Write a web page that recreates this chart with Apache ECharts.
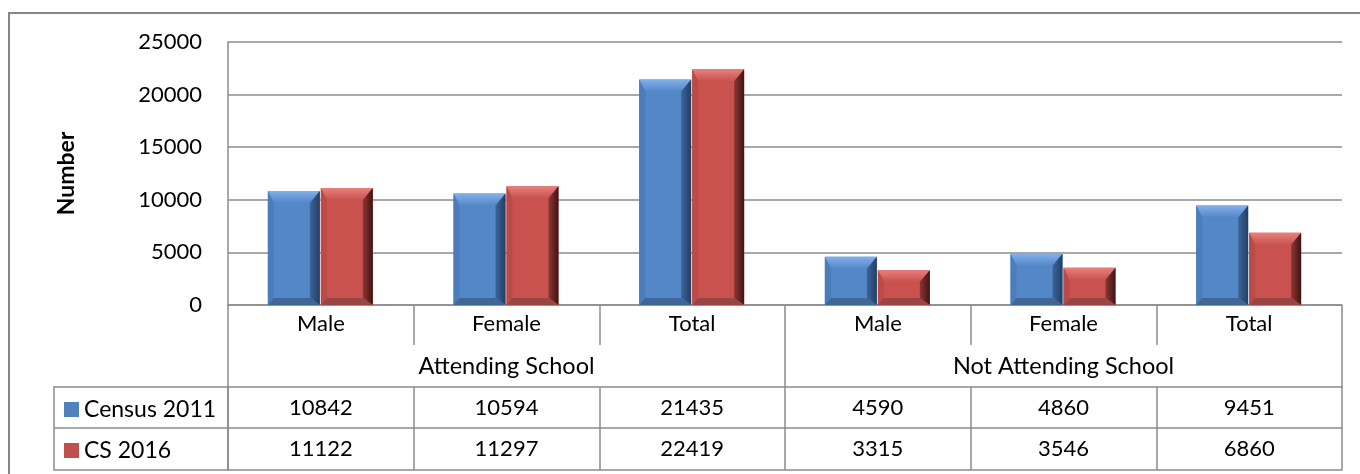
<!DOCTYPE html>
<html>
<head>
<meta charset="utf-8">
<script src="https://cdn.jsdelivr.net/npm/echarts@6/dist/echarts.min.js"></script>
<style>
html, body { margin: 0; padding: 0; background: #fff; }
#chart { width: 1360px; height: 474px; }
</style>
</head>
<body>
<div id="chart"></div>
<script>
var categories = ['Male', 'Female', 'Total', 'Male', 'Female', 'Total'];
var groups = ['Attending School', 'Not Attending School'];
var census2011 = [10842, 10594, 21435, 4590, 4860, 9451];
var cs2016 = [11122, 11297, 22419, 3315, 3546, 6860];
var yTicks = { min: 0, max: 25000, interval: 5000 };

var FONT = 'Lato';
var LINE = '#8c8c8c';

var palettes = {
    blue: { face: '#5487c7', top: '#82b0ea', left: '#4b7cbb', right: '#233e62', rightIn: '#3b659b', bottom: '#3f6697' },
    red: { face: '#c9524f', top: '#e8807d', left: '#bb4b48', right: '#3f1413', rightIn: '#8e3634', bottom: '#9a4542' }
};

// bevelled bar drawn through the axis scales
function bevelBar(shift, pal) {
    return function (params, api) {
        var idx = api.value(0);
        var v = api.value(1);
        var topPt = api.coord([idx, v]);
        var basePt = api.coord([idx, 0]);
        var bw = api.size([1, 0])[0];
        var w = bw * 0.28;
        var x0 = topPt[0] + shift * w - (shift < 0 ? 1 : 0);
        var x1 = x0 + w;
        var y0 = topPt[1];
        var y1 = basePt[1];
        var h = y1 - y0;
        var bt = Math.min(12, h / 3), br = 10, bb = Math.min(7, h / 4), bl = 6;
        return {
            type: 'group',
            children: [
                { type: 'rect', shape: { x: x0, y: y0, width: w, height: h }, style: { fill: pal.face } },
                { type: 'polygon', shape: { points: [[x0, y0], [x1, y0], [x1 - br, y0 + bt], [x0 + bl, y0 + bt]] },
                  style: { fill: new echarts.graphic.LinearGradient(0, 0, 0, 1, [{ offset: 0, color: pal.top }, { offset: 1, color: pal.face }]) } },
                { type: 'polygon', shape: { points: [[x0, y0], [x0 + bl, y0 + bt], [x0 + bl, y1 - bb], [x0, y1]] },
                  style: { fill: pal.left } },
                { type: 'polygon', shape: { points: [[x1, y0], [x1, y1], [x1 - br, y1 - bb], [x1 - br, y0 + bt]] },
                  style: { fill: new echarts.graphic.LinearGradient(1, 0, 0, 0, [{ offset: 0, color: pal.right }, { offset: 1, color: pal.rightIn }]) } },
                { type: 'polygon', shape: { points: [[x0, y1], [x1, y1], [x1 - br, y1 - bb], [x0 + bl, y1 - bb]] },
                  style: { fill: pal.bottom } }
            ]
        };
    };
}

function tableAxis(data, offset, tickLen, showLine, margin, size) {
    return {
        type: 'category',
        position: 'bottom',
        offset: offset,
        data: data,
        axisLine: { show: showLine, lineStyle: { color: LINE, width: 1.5 } },
        axisTick: { show: tickLen > 0, length: tickLen, interval: 0, lineStyle: { color: LINE, width: 1.5 } },
        axisLabel: { show: data.length > 0, interval: 0, margin: margin, color: '#000', fontFamily: FONT, fontSize: size || 22 },
        splitLine: { show: false }
    };
}

var chart = echarts.init(document.getElementById('chart'));
var option = {
    animation: false,
    grid: { left: 228, right: 18, top: 42, bottom: 169, outerBoundsMode: 'none', containLabel: false },
    legend: {
        orient: 'vertical',
        left: 64,
        top: 398,
        padding: 0,
        itemWidth: 15,
        itemHeight: 15,
        itemGap: 18,
        icon: 'rect',
        data: ['Census 2011', 'CS 2016'],
        textStyle: { color: '#000', fontFamily: FONT, fontSize: 23, lineHeight: 23 }
    },
    graphic: [
        { type: 'rect', shape: { x: 9, y: 13, width: 1360, height: 470 }, style: { fill: 'none', stroke: '#868686', lineWidth: 2 } },
        { type: 'rect', shape: { x: 54, y: 387, width: 174, height: 83 }, style: { fill: 'none', stroke: LINE, lineWidth: 1.5 } },
        { type: 'line', shape: { x1: 54, y1: 428, x2: 228, y2: 428 }, style: { stroke: LINE, lineWidth: 1.5 } }
    ],
    xAxis: [
        tableAxis(categories, 0, 40, true, 8),
        tableAxis(groups, 40, 42, false, 9, 23.5),
        tableAxis(census2011.map(String), 82, 41, true, 10),
        tableAxis(cs2016.map(String), 123, 42, true, 10),
        tableAxis([''], 165, 0, true, 10)
    ],
    yAxis: {
        type: 'value',
        min: yTicks.min,
        max: yTicks.max,
        interval: yTicks.interval,
        name: 'Number',
        nameLocation: 'middle',
        nameGap: 150,
        nameTextStyle: { color: '#000', fontFamily: FONT, fontSize: 23, fontWeight: 'bold' },
        axisLine: { show: true, lineStyle: { color: LINE, width: 1.5 } },
        axisTick: { show: false },
        axisLabel: { margin: 26, color: '#000', fontFamily: FONT, fontSize: 22, formatter: function (v) { return String(v); } },
        splitLine: { lineStyle: { color: LINE, width: 1.5 } }
    },
    series: [
        {
            name: 'Census 2011',
            type: 'custom',
            xAxisIndex: 0,
            itemStyle: { color: '#4F81BD' },
            encode: { x: 0, y: 1 },
            renderItem: bevelBar(-1, palettes.blue),
            data: census2011.map(function (v, i) { return [i, v]; })
        },
        {
            name: 'CS 2016',
            type: 'custom',
            xAxisIndex: 0,
            itemStyle: { color: '#C0504D' },
            encode: { x: 0, y: 1 },
            renderItem: bevelBar(0, palettes.red),
            data: cs2016.map(function (v, i) { return [i, v]; })
        }
    ]
};
chart.setOption(option);
</script>
</body>
</html>
